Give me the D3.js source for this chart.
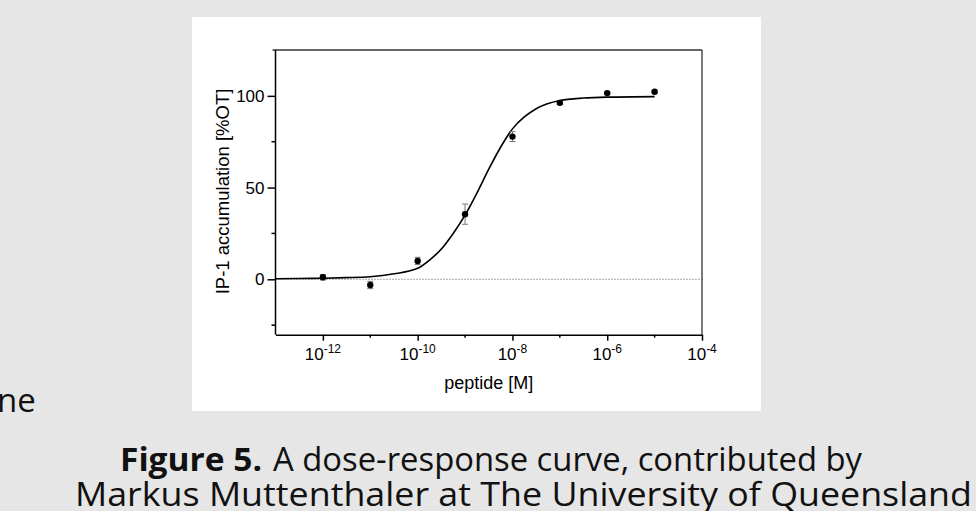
<!DOCTYPE html>
<html>
<head>
<meta charset="utf-8">
<script src="https://cdn.jsdelivr.net/npm/d3@7"></script>
<style>
  html, body { margin: 0; padding: 0; background: #e6e6e6; }
  svg { display: block; }
</style>
</head>
<body>
<svg id="chart" width="976" height="511"></svg>
<script>
// dose-response figure (IP-1 accumulation vs peptide concentration)

const doses = [1e-12, 1e-11, 1e-10, 1e-9, 1e-8, 1e-7, 1e-6, 1e-5];
const means = [1.1, -3.1, 10.0, 35.5, 77.8, 96.2, 101.5, 102.2];
const errs = [1.5, 2.0, 2.0, 5.5, 2.7, 0.8, 0.6, 0.6];

// fitted curve (log10 dose, response)
const fitLogX = [-13, -12.5, -12, -11.5, -11, -10.5, -10, -9.75, -9.5, -9.25, -9, -8.75, -8.5, -8.25, -8, -7.75, -7.5, -7, -6.5, -6, -5];
const fitY = [0.3, 0.4, 0.6, 0.9, 1.4, 3.0, 6.0, 10.5, 16.5, 25, 35, 47, 60, 72, 82, 88.5, 93, 97.5, 98.8, 99.3, 99.6];

const yTicks = [0, 50, 100];
const yMinor = [-25, 25, 75];
const xMajorExp = [-12, -10, -8, -6, -4];
const xMinorExp = [-11, -9, -7, -5];

const yTitle = 'IP-1 accumulation [%OT]';
const xTitle = 'peptide [M]';
const captionBold = 'Figure 5.';
const captionRest = 'A dose-response curve, contributed by';
const captionLine2 = 'Markus Muttenthaler at The University of Queensland';

const svg = d3.select('#chart');

// white figure panel
svg.append('rect').attr('x', 192).attr('y', 17).attr('width', 569).attr('height', 394).attr('fill', '#fff');

const pLeft = 275.5, pRight = 702, pTop = 50, pBottom = 334.7;
const x = d3.scaleLog().domain([1e-13, 1e-4]).range([pLeft, pRight]);
const y = d3.scaleLinear().domain([-30.2, 125]).range([pBottom, pTop]);

const axisFont = 'Liberation Sans, Arial, sans-serif';

// frame: top and right lines
svg.append('line').attr('x1', pLeft - 3).attr('x2', pRight).attr('y1', pTop).attr('y2', pTop)
  .attr('stroke', '#333').attr('stroke-width', 1.3);
svg.append('line').attr('x1', pRight).attr('x2', pRight).attr('y1', pTop).attr('y2', pBottom)
  .attr('stroke', '#333').attr('stroke-width', 1.3);

// zero reference line
svg.append('line').attr('x1', pLeft).attr('x2', pRight).attr('y1', y(0)).attr('y2', y(0))
  .attr('stroke', '#555').attr('stroke-width', 1).attr('stroke-dasharray', '1,2');

// y axis
const yAxis = d3.axisLeft(y).tickValues(yTicks).tickSize(8).tickPadding(3).tickSizeOuter(0);
const gy = svg.append('g').attr('transform', `translate(${pLeft},0)`).call(yAxis);
gy.selectAll('text').attr('font-size', 17).attr('font-family', axisFont).attr('fill', '#000');
gy.selectAll('line, path').attr('stroke', '#000').attr('stroke-width', 1.5);
gy.selectAll('.minor').data(yMinor).enter().append('line').attr('class', 'minor')
  .attr('x1', 0).attr('x2', -4).attr('y1', d => y(d)).attr('y2', d => y(d))
  .attr('stroke', '#000').attr('stroke-width', 1.5);
gy.select('.domain').attr('d', `M0,${pTop}V${pBottom}`);

// x axis
const xAxis = d3.axisBottom(x).tickValues(xMajorExp.map(e => Math.pow(10, e))).tickSize(6).tickSizeOuter(0).tickFormat('');
const gx = svg.append('g').attr('transform', `translate(0,${pBottom})`).call(xAxis);
gx.selectAll('line, path').attr('stroke', '#000').attr('stroke-width', 1.5);
gx.selectAll('.minor').data(xMinorExp).enter().append('line').attr('class', 'minor')
  .attr('x1', d => x(Math.pow(10, d))).attr('x2', d => x(Math.pow(10, d)))
  .attr('y1', 0).attr('y2', 3).attr('stroke', '#000').attr('stroke-width', 1.5);
const xl = svg.append('g').selectAll('text').data(xMajorExp).enter().append('text')
  .attr('x', d => x(Math.pow(10, d))).attr('y', pBottom + 25)
  .attr('text-anchor', 'middle').attr('font-family', axisFont).attr('font-size', 17);
xl.append('tspan').text('10');
xl.append('tspan').attr('font-size', 12).attr('dy', -7).text(d => String(d));

// titles
svg.append('text').attr('x', (pLeft + pRight) / 2).attr('y', 389).attr('text-anchor', 'middle')
  .attr('font-family', axisFont).attr('font-size', 18).text(xTitle);
svg.append('text').attr('transform', `translate(229,${(88 + 295) / 2}) rotate(-90)`).attr('text-anchor', 'middle')
  .attr('font-family', axisFont).attr('font-size', 18.5).text(yTitle);

// fitted curve
const line = d3.line().x(d => x(Math.pow(10, d[0]))).y(d => y(d[1])).curve(d3.curveMonotoneX);
svg.append('path').datum(fitLogX.map((v, i) => [v, fitY[i]]))
  .attr('d', line).attr('fill', 'none').attr('stroke', '#000').attr('stroke-width', 1.6);

// error bars and points
const pts = doses.map((d, i) => ({ dose: d, m: means[i], e: errs[i] }));
const eb = svg.append('g').attr('stroke', '#777').attr('stroke-width', 1);
pts.forEach(p => {
  const cx = x(p.dose);
  eb.append('line').attr('x1', cx).attr('x2', cx).attr('y1', y(p.m - p.e)).attr('y2', y(p.m + p.e));
  eb.append('line').attr('x1', cx - 3).attr('x2', cx + 3).attr('y1', y(p.m - p.e)).attr('y2', y(p.m - p.e));
  eb.append('line').attr('x1', cx - 3).attr('x2', cx + 3).attr('y1', y(p.m + p.e)).attr('y2', y(p.m + p.e));
});
svg.append('g').selectAll('circle').data(pts).enter().append('circle')
  .attr('cx', d => x(d.dose)).attr('cy', d => y(d.m)).attr('r', 3.2).attr('fill', '#000');

// caption
const capFont = 'Open Sans, Noto Sans, sans-serif';
svg.append('text').attr('x', -3).attr('y', 412).attr('font-family', capFont).attr('font-size', 33)
  .attr('fill', '#111').text('ne');
svg.append('text').attr('x', 120).attr('y', 471).attr('font-family', capFont).attr('font-size', 33)
  .attr('font-weight', 'bold').attr('fill', '#111')
  .attr('textLength', 142).attr('lengthAdjust', 'spacingAndGlyphs').text(captionBold);
svg.append('text').attr('x', 273).attr('y', 471).attr('font-family', capFont).attr('font-size', 33)
  .attr('fill', '#111').attr('textLength', 589).attr('lengthAdjust', 'spacingAndGlyphs').text(captionRest);
svg.append('text').attr('x', 75).attr('y', 506).attr('font-family', capFont).attr('font-size', 33)
  .attr('fill', '#111').attr('textLength', 897).attr('lengthAdjust', 'spacingAndGlyphs').text(captionLine2);
</script>
</body>
</html>
